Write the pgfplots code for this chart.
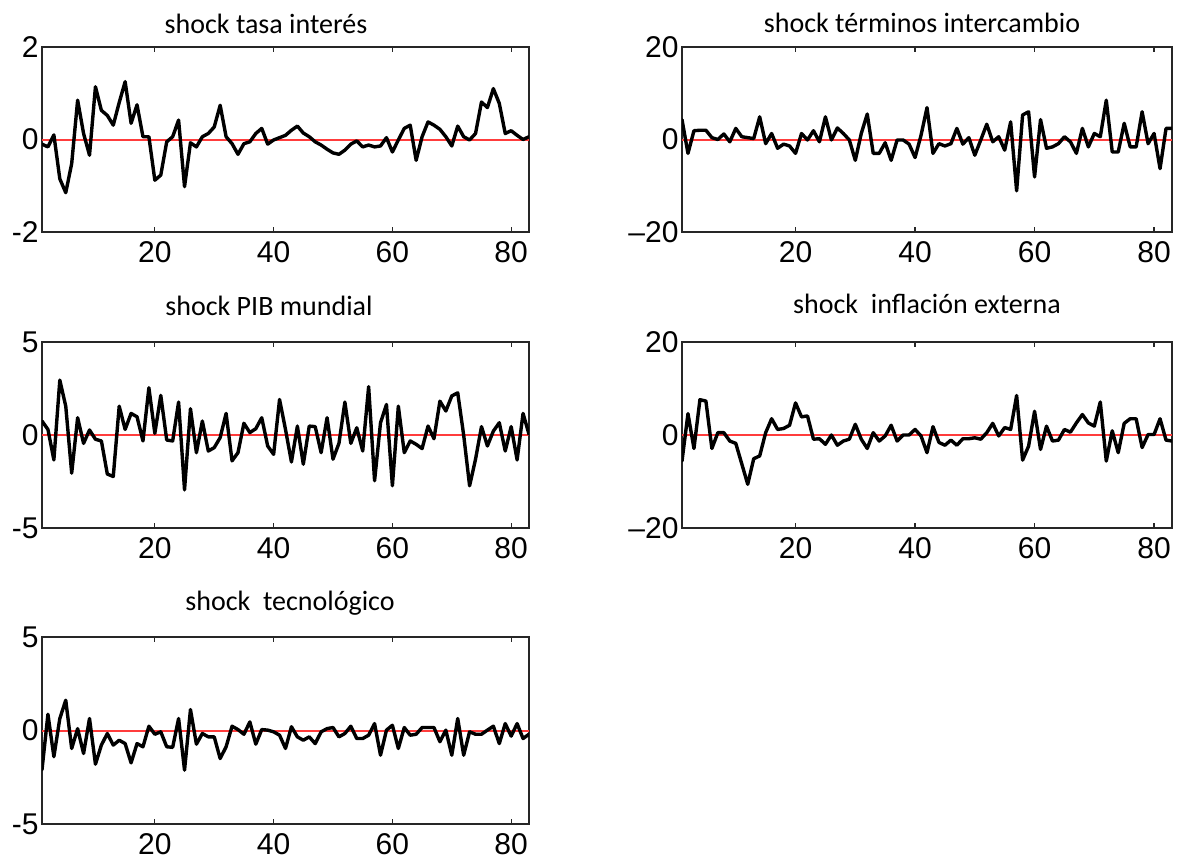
\documentclass[border=0pt]{standalone}
\usepackage{fontspec}
\setmainfont{Liberation Sans}
\newfontfamily\titlefont{Carlito}
\usepackage{pgfplots}
\pgfplotsset{compat=1.18}
\definecolor{zeroline}{RGB}{255,60,60}
\pgfplotsset{
  panel/.style={
    scale only axis, xmin=1, xmax=83,
    xtick={20,40,60,80}, xticklabels={20,40,60,80},
    tick align=inside, major tick length=5pt,
    axis line style={line width=1.5pt, black!85},
    every tick/.style={line width=1.2pt, black!85},
    tick label style={font=\fontsize{30}{34}\selectfont},
    xticklabel style={yshift=-6pt},
    clip=true,
  },
  zero/.style={draw=zeroline, line width=2pt},
  series/.style={draw=black, line width=3.4pt, line join=round, line cap=round},
}
\begin{document}
\begin{tikzpicture}
\useasboundingbox (0pt,0pt) rectangle (1177pt,-867pt);

% ---- shock tasa interes
\begin{axis}[panel, at={(42pt,-47pt)}, anchor=north west, width=487pt, height=185pt,
  ymin=-2, ymax=2, ytick={-2,0,2}, yticklabels={{-2\hspace{-9pt}},0,2}]
\addplot[zero] coordinates {(1,0) (83,0)};
\addplot[series] coordinates {
(1,-0.10)(2,-0.16)(3,0.10)(4,-0.85)(5,-1.15)(6,-0.52)(7,0.85)(8,0.13)(9,-0.34)(10,1.14)
(11,0.63)(12,0.52)(13,0.31)(14,0.80)(15,1.25)(16,0.35)(17,0.75)(18,0.06)(19,0.06)(20,-0.88)
(21,-0.77)(22,-0.05)(23,0.06)(24,0.42)(25,-1.02)(26,-0.07)(27,-0.16)(28,0.06)(29,0.13)(30,0.27)
(31,0.74)(32,0.06)(33,-0.09)(34,-0.32)(35,-0.09)(36,-0.05)(37,0.13)(38,0.24)(39,-0.10)(40,-0.01)
(41,0.04)(42,0.09)(43,0.20)(44,0.29)(45,0.14)(46,0.06)(47,-0.05)(48,-0.12)(49,-0.21)(50,-0.29)
(51,-0.32)(52,-0.23)(53,-0.10)(54,-0.03)(55,-0.16)(56,-0.12)(57,-0.16)(58,-0.14)(59,0.04)(60,-0.27)
(61,-0.01)(62,0.24)(63,0.31)(64,-0.45)(65,0.06)(66,0.38)(67,0.31)(68,0.22)(69,0.06)(70,-0.14)
(71,0.29)(72,0.06)(73,-0.01)(74,0.13)(75,0.81)(76,0.69)(77,1.10)(78,0.78)(79,0.13)(80,0.19)
(81,0.09)(82,0.00)(83,0.06)};
\end{axis}

% ---- shock terminos intercambio
\begin{axis}[panel, at={(682pt,-47pt)}, anchor=north west, width=490pt, height=185pt,
  ymin=-20, ymax=20, ytick={-20,0,20}, yticklabels={{--20\hspace{-8pt}},0,20}]
\addplot[zero] coordinates {(1,0) (83,0)};
\addplot[series] coordinates {
(1,4.3)(2,-3.0)(3,1.9)(4,2.0)(5,2.0)(6,0.4)(7,0.0)(8,1.2)(9,-0.5)(10,2.4)
(11,0.6)(12,0.4)(13,0.2)(14,4.9)(15,-0.9)(16,1.3)(17,-1.9)(18,-1.0)(19,-1.4)(20,-3.0)
(21,1.3)(22,-0.1)(23,1.9)(24,-0.5)(25,4.9)(26,-0.1)(27,2.5)(28,1.3)(29,-0.1)(30,-4.5)
(31,1.3)(32,5.5)(33,-3.0)(34,-3.0)(35,-0.7)(36,-4.5)(37,-0.1)(38,-0.1)(39,-1.0)(40,-3.9)
(41,0.9)(42,6.9)(43,-3.0)(44,-0.9)(45,-1.4)(46,-0.9)(47,2.4)(48,-1.0)(49,0.4)(50,-3.4)
(51,-0.1)(52,3.3)(53,-0.5)(54,0.6)(55,-2.3)(56,3.8)(57,-11.1)(58,5.3)(59,6.0)(60,-8.1)
(61,4.3)(62,-1.9)(63,-1.6)(64,-0.9)(65,0.6)(66,-0.5)(67,-3.0)(68,2.4)(69,-1.6)(70,1.3)
(71,0.6)(72,8.5)(73,-2.7)(74,-2.7)(75,3.5)(76,-1.6)(77,-1.6)(78,6.0)(79,-0.9)(80,1.3)
(81,-6.3)(82,2.4)(83,2.4)};
\end{axis}

% ---- shock PIB mundial
\begin{axis}[panel, at={(42pt,-342pt)}, anchor=north west, width=487pt, height=186pt,
  ymin=-5, ymax=5, ytick={-5,0,5}, yticklabels={{-5\hspace{-9pt}},0,5}]
\addplot[zero] coordinates {(1,0) (83,0)};
\addplot[series] coordinates {
(1,0.75)(2,0.30)(3,-1.34)(4,2.95)(5,1.55)(6,-2.05)(7,0.93)(8,-0.45)(9,0.27)(10,-0.23)
(11,-0.32)(12,-2.10)(13,-2.23)(14,1.55)(15,0.30)(16,1.16)(17,0.98)(18,-0.32)(19,2.54)(20,0.09)
(21,2.13)(22,-0.27)(23,-0.32)(24,1.77)(25,-2.95)(26,1.41)(27,-0.95)(28,0.75)(29,-0.86)(30,-0.68)
(31,-0.14)(32,1.16)(33,-1.39)(34,-0.95)(35,0.63)(36,0.13)(37,0.34)(38,0.93)(39,-0.59)(40,-1.04)
(41,1.91)(42,0.30)(43,-1.45)(44,0.48)(45,-1.57)(46,0.48)(47,0.45)(48,-0.95)(49,0.93)(50,-1.30)
(51,-0.45)(52,1.77)(53,-0.45)(54,0.39)(55,-0.86)(56,2.60)(57,-2.46)(58,0.66)(59,1.64)(60,-2.73)
(61,1.55)(62,-0.95)(63,-0.32)(64,-0.50)(65,-0.73)(66,0.48)(67,-0.20)(68,1.82)(69,1.29)(70,2.10)
(71,2.27)(72,0.00)(73,-2.73)(74,-1.30)(75,0.45)(76,-0.59)(77,0.21)(78,0.66)(79,-0.86)(80,0.45)
(81,-1.34)(82,1.16)(83,0.04)};
\end{axis}

% ---- shock inflacion externa
\begin{axis}[panel, at={(682pt,-342pt)}, anchor=north west, width=490pt, height=186pt,
  ymin=-20, ymax=20, ytick={-20,0,20}, yticklabels={{--20\hspace{-8pt}},0,20}]
\addplot[zero] coordinates {(1,0) (83,0)};
\addplot[series] coordinates {
(1,-5.6)(2,4.6)(3,-2.9)(4,7.6)(5,7.3)(6,-2.9)(7,0.5)(8,0.5)(9,-1.3)(10,-1.8)
(11,-6.2)(12,-10.6)(13,-5.1)(14,-4.5)(15,0.5)(16,3.5)(17,1.2)(18,1.4)(19,2.1)(20,6.9)
(21,3.9)(22,4.1)(23,-0.9)(24,-0.8)(25,-2.0)(26,0.0)(27,-2.2)(28,-1.3)(29,-0.9)(30,2.3)
(31,-0.9)(32,-2.9)(33,0.5)(34,-1.3)(35,-0.2)(36,2.1)(37,-1.3)(38,0.0)(39,0.0)(40,1.2)
(41,-0.2)(42,-3.8)(43,1.8)(44,-1.6)(45,-2.2)(46,-1.1)(47,-2.2)(48,-0.8)(49,-0.8)(50,-0.6)
(51,-0.9)(52,0.5)(53,2.5)(54,-0.2)(55,1.6)(56,1.2)(57,8.5)(58,-5.4)(59,-2.4)(60,5.1)
(61,-3.1)(62,1.9)(63,-1.3)(64,-1.1)(65,1.2)(66,0.6)(67,2.6)(68,4.4)(69,2.6)(70,1.9)
(71,7.1)(72,-5.6)(73,0.9)(74,-3.8)(75,2.5)(76,3.5)(77,3.5)(78,-2.7)(79,0.1)(80,0.1)
(81,3.5)(82,-1.1)(83,-1.3)};
\end{axis}

% ---- shock tecnologico
\begin{axis}[panel, at={(42pt,-637pt)}, anchor=north west, width=487pt, height=187pt,
  ymin=-5, ymax=5, ytick={-5,0,5}, yticklabels={{-5\hspace{-9pt}},0,5}]
\addplot[zero] coordinates {(1,0) (83,0)};
\addplot[series] coordinates {
(1,-2.10)(2,0.87)(3,-1.40)(4,0.64)(5,1.62)(6,-0.96)(7,0.10)(8,-1.23)(9,0.64)(10,-1.80)
(11,-0.78)(12,-0.16)(13,-0.78)(14,-0.52)(15,-0.70)(16,-1.73)(17,-0.70)(18,-0.87)(19,0.23)(20,-0.20)
(21,-0.07)(22,-0.87)(23,-0.90)(24,0.64)(25,-2.12)(26,1.12)(27,-0.73)(28,-0.16)(29,-0.34)(30,-0.34)
(31,-1.50)(32,-0.87)(33,0.23)(34,0.05)(35,-0.20)(36,0.46)(37,-0.73)(38,0.05)(39,0.02)(40,-0.07)
(41,-0.25)(42,-0.96)(43,0.20)(44,-0.34)(45,-0.52)(46,-0.34)(47,-0.70)(48,-0.07)(49,0.10)(50,0.16)
(51,-0.34)(52,-0.16)(53,0.23)(54,-0.43)(55,-0.43)(56,-0.25)(57,0.37)(58,-1.32)(59,0.02)(60,0.28)
(61,-0.96)(62,0.16)(63,-0.25)(64,-0.20)(65,0.16)(66,0.16)(67,0.16)(68,-0.60)(69,0.02)(70,-1.32)
(71,0.64)(72,-1.32)(73,-0.07)(74,-0.20)(75,-0.20)(76,0.02)(77,0.23)(78,-0.70)(79,0.37)(80,-0.30)
(81,0.37)(82,-0.43)(83,-0.20)};
\end{axis}

% ---- titles
\begin{scope}[every node/.style={anchor=base, inner sep=0pt, font=\titlefont\fontsize{28}{32}\selectfont}]
\node at (266pt,-34pt) {shock tasa interés};
\node at (922pt,-33pt) {shock términos intercambio};
\node at (269pt,-315pt) {shock PIB mundial};
\node at (927pt,-313pt) {shock\ \ inflación externa};
\node at (290pt,-610pt) {shock\ \ tecnológico};
\end{scope}
\end{tikzpicture}
\end{document}
